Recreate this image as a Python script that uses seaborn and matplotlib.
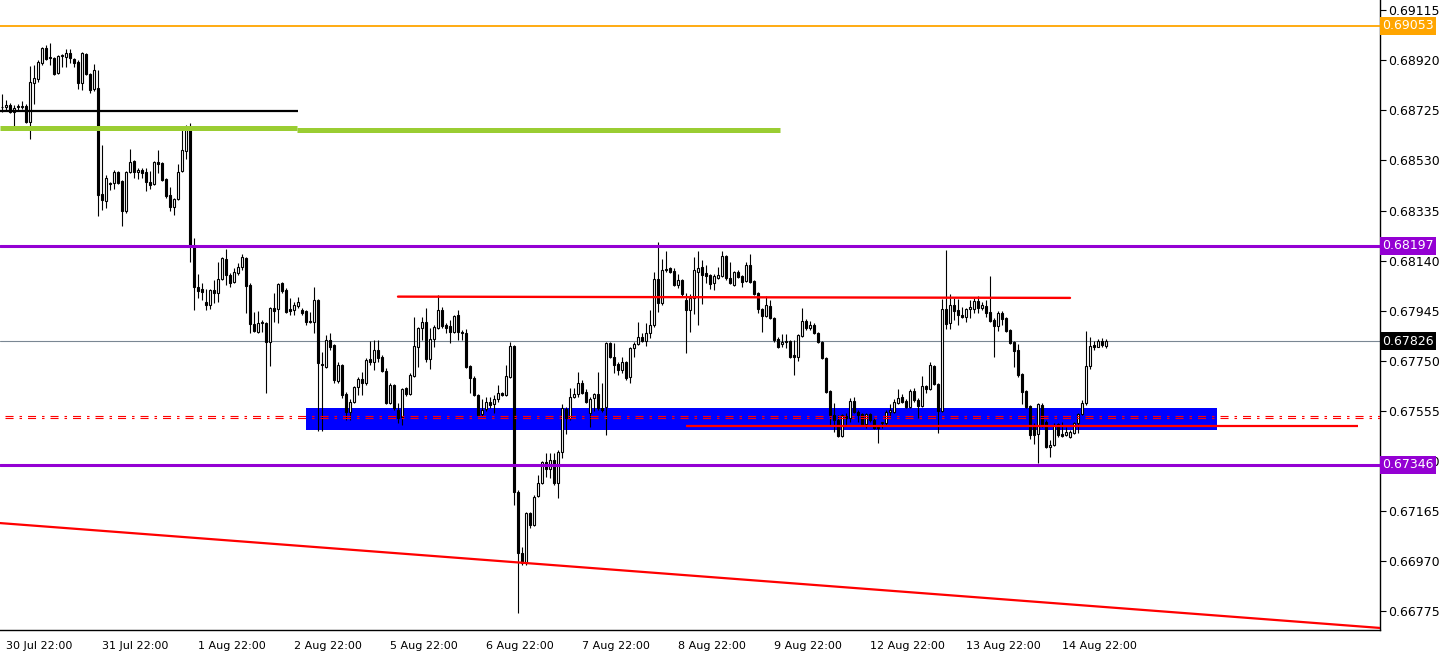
import numpy as np
import pandas as pd
import matplotlib
matplotlib.use("Agg")
import matplotlib.pyplot as plt
import matplotlib.transforms as mtransforms
import seaborn as sns

# ---------------- data (prices in points, 1 point = 0.00001) ----------------
open_pts = [
    68738, 68738, 68746, 68718, 68738, 68738, 68742, 68680, 68831, 68847,
    68909, 68967, 68928, 68928, 68870, 68936, 68932, 68948, 68924, 68913,
    68831, 68944, 68866, 68808, 68812, 68399, 68372, 68438, 68442, 68485,
    68450, 68333, 68485, 68528, 68485, 68493, 68485, 68446, 68438, 68524,
    68520, 68458, 68395, 68349, 68380, 68489, 68567, 68656, 68193, 68038,
    68030, 67979, 67968, 68026, 68014, 68069, 68146, 68084, 68057, 68092,
    68115, 68150, 68046, 67894, 67862, 67898, 67898, 67823, 67956, 67952,
    68053, 68026, 67952, 67948, 67964, 67948, 67944, 67902, 67902, 67987,
    67734, 67726, 67831, 67812, 67672, 67734, 67621, 67551, 67590, 67648,
    67679, 67664, 67757, 67746, 67792, 67765, 67711, 67586, 67656, 67559,
    67532, 67644, 67621, 67691, 67804, 67878, 67902, 67757, 67835, 67878,
    67948, 67890, 67886, 67862, 67929, 67862, 67859, 67730, 67683, 67617,
    67544, 67563, 67590, 67582, 67602, 67625, 67617, 67687, 67808, 67240,
    67003, 66964, 67158, 67112, 67225, 67275, 67357, 67330, 67365, 67275,
    67396, 67563, 67528, 67609, 67621, 67664, 67629, 67547, 67606, 67621,
    67567, 67571, 67820, 67765, 67738, 67714, 67746, 67687, 67800, 67816,
    67843, 67827, 67859, 67890, 68069, 67975, 68103, 68111, 68100, 68046,
    68065, 67987, 67948, 67995, 68096, 68115, 68092, 68084, 68053, 68072,
    68080, 68158, 68072, 68046, 68096, 68080, 68061, 68123, 68061, 68014,
    67952, 67925, 67964, 67917, 67835, 67816, 67827, 67827, 67773, 67765,
    67847, 67905, 67878, 67890, 67859, 67823, 67761, 67633, 67540, 67520,
    67458, 67536, 67528, 67594, 67551, 67544, 67505, 67544, 67520, 67493,
    67509, 67509, 67551, 67551, 67586, 67609, 67594, 67571, 67633, 67598,
    67575, 67652, 67640, 67730, 67660, 67555, 67952, 67898, 67968, 67948,
    67929, 67921, 67952, 67952, 67983, 67956, 67964, 67940, 67909, 67886,
    67936, 67917, 67870, 67823, 67792, 67699, 67633, 67575, 67501, 67466,
    67579, 67512, 67415, 67423, 67505, 67466, 67462, 67454, 67470, 67509,
    67544, 67586, 67730, 67812, 67804, 67827, 67808,
]
high_pts = [
    68788, 68765, 68753, 68746, 68749, 68761, 68749, 68897, 68901, 68921,
    68971, 68979, 68987, 68932, 68940, 68944, 68963, 68963, 68928, 68921,
    68952, 68948, 68870, 68905, 68882, 68590, 68473, 68446, 68493, 68489,
    68454, 68489, 68574, 68532, 68500, 68500, 68500, 68489, 68528, 68570,
    68524, 68462, 68427, 68384, 68516, 68648, 68668, 68676, 68228, 68089,
    68053, 68030, 68030, 68065, 68135, 68154, 68185, 68092, 68111, 68131,
    68166, 68154, 68053, 67940, 67944, 67909, 67902, 67960, 68014, 68053,
    68057, 68034, 67995, 67979, 67999, 67956, 67948, 67940, 68038, 67991,
    67785, 67851, 67859, 67816, 67746, 67738, 67629, 67602, 67652, 67687,
    67707, 67761, 67827, 67831, 67831, 67773, 67722, 67664, 67660, 67586,
    67644, 67648, 67703, 67921, 67882, 67921, 67956, 67878, 67890, 68006,
    67960, 67898, 67909, 67929, 67948, 67870, 67874, 67734, 67691, 67621,
    67602, 67609, 67609, 67617, 67656, 67629, 67734, 67823, 67812, 67248,
    67026, 67162, 67162, 67228, 67306, 67361, 67392, 67392, 67392, 67403,
    67582, 67571, 67644, 67644, 67707, 67675, 67640, 67609, 67625, 67707,
    67664, 67823, 67823, 67820, 67746, 67765, 67750, 67804, 67823, 67902,
    67859, 67898, 67948, 68096, 68213, 68146, 68178, 68115, 68111, 68089,
    68069, 68014, 68010, 68154, 68178, 68142, 68123, 68088, 68089, 68115,
    68178, 68162, 68135, 68100, 68103, 68084, 68135, 68166, 68065, 68018,
    67956, 68003, 67987, 67921, 67843, 67855, 67855, 67831, 67831, 67855,
    67956, 67913, 67905, 67898, 67862, 67827, 67765, 67636, 67586, 67540,
    67544, 67547, 67606, 67609, 67559, 67547, 67547, 67547, 67528, 67501,
    67512, 67559, 67582, 67602, 67640, 67621, 67602, 67640, 67644, 67606,
    67691, 67656, 67746, 67734, 67664, 67991, 68181, 68010, 67995, 67991,
    67960, 67956, 67987, 67995, 68003, 67979, 67987, 68080, 67917, 67944,
    67944, 67921, 67874, 67827, 67816, 67703, 67636, 67579, 67509, 67586,
    67586, 67520, 67442, 67509, 67509, 67512, 67493, 67481, 67512, 67547,
    67598, 67866, 67843, 67827, 67835, 67839, 67835,
]
low_pts = [
    68718, 68726, 68714, 68664, 68726, 68730, 68676, 68613, 68749, 68835,
    68901, 68921, 68901, 68862, 68866, 68893, 68893, 68909, 68893, 68808,
    68804, 68862, 68792, 68800, 68314, 68337, 68345, 68415, 68419, 68438,
    68275, 68325, 68481, 68462, 68458, 68462, 68411, 68419, 68434, 68481,
    68450, 68384, 68333, 68318, 68376, 68485, 68536, 68135, 67948, 67995,
    67987, 67948, 67952, 67975, 67979, 68065, 68046, 68038, 68053, 68084,
    68104, 67936, 67859, 67862, 67859, 67862, 67625, 67730, 67902, 67898,
    68014, 67936, 67929, 67929, 67956, 67929, 67890, 67898, 67859, 67477,
    67477, 67722, 67792, 67664, 67664, 67606, 67520, 67520, 67586, 67617,
    67617, 67656, 67734, 67714, 67746, 67707, 67582, 67582, 67559, 67509,
    67501, 67613, 67617, 67687, 67726, 67831, 67746, 67718, 67804, 67874,
    67878, 67859, 67820, 67859, 67831, 67831, 67722, 67625, 67613, 67536,
    67536, 67555, 67567, 67547, 67590, 67613, 67613, 67683, 67190, 66769,
    66956, 66956, 67100, 67108, 67220, 67271, 67299, 67295, 67267, 67217,
    67372, 67466, 67520, 67606, 67609, 67621, 67586, 67493, 67555, 67559,
    67551, 67462, 67761, 67703, 67695, 67703, 67675, 67664, 67765, 67812,
    67823, 67808, 67839, 67882, 67940, 67968, 68096, 68092, 68042, 68034,
    68003, 67781, 67862, 67933, 67890, 67971, 68053, 68030, 68026, 68069,
    68076, 68065, 68049, 68042, 68072, 68038, 68057, 68053, 68007, 67936,
    67862, 67921, 67913, 67823, 67800, 67804, 67800, 67761, 67695, 67750,
    67843, 67870, 67870, 67855, 67820, 67757, 67625, 67501, 67474, 67454,
    67454, 67501, 67512, 67547, 67512, 67497, 67489, 67512, 67485, 67431,
    67489, 67501, 67532, 67547, 67582, 67586, 67567, 67567, 67590, 67528,
    67571, 67625, 67636, 67656, 67470, 67551, 67874, 67874, 67909, 67890,
    67917, 67902, 67917, 67936, 67936, 67948, 67921, 67902, 67765, 67866,
    67890, 67862, 67816, 67726, 67687, 67582, 67567, 67446, 67427, 67353,
    67493, 67411, 67376, 67419, 67454, 67454, 67458, 67450, 67466, 67470,
    67540, 67579, 67718, 67792, 67812, 67804, 67800,
]
close_pts = [
    68738, 68746, 68718, 68734, 68742, 68742, 68680, 68835, 68851, 68913,
    68967, 68924, 68932, 68866, 68936, 68940, 68948, 68928, 68909, 68831,
    68948, 68866, 68804, 68882, 68395, 68376, 68462, 68442, 68485, 68442,
    68333, 68485, 68524, 68485, 68493, 68481, 68446, 68434, 68524, 68516,
    68454, 68391, 68349, 68380, 68485, 68570, 68660, 68201, 68038, 68022,
    68018, 67968, 68026, 68014, 68069, 68150, 68084, 68053, 68096, 68115,
    68154, 68042, 67894, 67866, 67898, 67902, 67823, 67956, 67944, 68049,
    68022, 67940, 67944, 67968, 67979, 67936, 67902, 67905, 67987, 67742,
    67738, 67831, 67804, 67675, 67734, 67617, 67551, 67590, 67648, 67679,
    67664, 67753, 67746, 67792, 67761, 67711, 67586, 67656, 67567, 67528,
    67640, 67621, 67695, 67808, 67878, 67902, 67757, 67835, 67882, 67948,
    67886, 67878, 67862, 67925, 67862, 67859, 67726, 67683, 67617, 67540,
    67559, 67590, 67579, 67602, 67625, 67617, 67691, 67808, 67240, 67003,
    66964, 67158, 67112, 67220, 67275, 67357, 67330, 67365, 67275, 67396,
    67567, 67528, 67609, 67621, 67664, 67625, 67590, 67602, 67621, 67567,
    67559, 67820, 67765, 67734, 67714, 67746, 67683, 67800, 67816, 67843,
    67827, 67859, 67890, 68069, 67975, 68103, 68107, 68096, 68046, 68065,
    68010, 67948, 67995, 68103, 68111, 68084, 68080, 68049, 68080, 68084,
    68158, 68072, 68053, 68096, 68076, 68057, 68123, 68057, 68010, 67952,
    67925, 67968, 67917, 67831, 67804, 67823, 67823, 67765, 67765, 67851,
    67905, 67878, 67890, 67859, 67823, 67761, 67629, 67540, 67520, 67458,
    67540, 67528, 67594, 67551, 67540, 67501, 67544, 67520, 67489, 67489,
    67512, 67551, 67559, 67590, 67606, 67590, 67571, 67633, 67598, 67575,
    67652, 67640, 67734, 67660, 67555, 67952, 67894, 67968, 67944, 67929,
    67921, 67952, 67960, 67983, 67956, 67968, 67936, 67905, 67886, 67936,
    67913, 67866, 67820, 67788, 67695, 67629, 67571, 67462, 67462, 67582,
    67501, 67415, 67423, 67501, 67462, 67458, 67474, 67474, 67509, 67544,
    67586, 67730, 67808, 67804, 67827, 67812, 67826,
]

day_labels = ["30 Jul 22:00", "31 Jul 22:00", "1 Aug 22:00", "2 Aug 22:00",
              "5 Aug 22:00", "6 Aug 22:00", "7 Aug 22:00", "8 Aug 22:00",
              "9 Aug 22:00", "12 Aug 22:00", "13 Aug 22:00", "14 Aug 22:00"]
price_ticks = [0.69115, 0.68920, 0.68725, 0.68530, 0.68335, 0.68140, 0.67945,
               0.67750, 0.67555, 0.67360, 0.67165, 0.66970, 0.66775]

level_orange = 0.69053
level_purple_hi = 0.68197
level_purple_lo = 0.67346
level_last = 0.67826
level_black = 0.68722
level_green = [0.68656, 0.68650]
level_resist = [0.68000, 0.67995]
zone_prices = [0.67481, 0.67567]
level_dashdot = [0.67536, 0.67527]
level_support = 0.67497
trend_prices = [0.67119, 0.66711]

# ---------------- setup ----------------
sns.set_style("white")
plt.rcParams["font.family"] = ["DejaVu Sans"]
plt.rcParams["lines.scale_dashes"] = False

n = min(len(open_pts), len(high_pts), len(low_pts), len(close_pts))
df = pd.DataFrame({
    "idx": np.arange(n),
    "open": np.array(open_pts[:n]) / 1e5,
    "high": np.array(high_pts[:n]) / 1e5,
    "low": np.array(low_pts[:n]) / 1e5,
    "close": np.array(close_pts[:n]) / 1e5,
})

W, H = 1444, 654
fig = plt.figure(figsize=(W / 100, H / 100), dpi=100)
fig.patch.set_facecolor("white")
ax = fig.add_axes([0, 24 / H, 1380 / W, 630 / H])
ax.set_facecolor("white")

x_left, x_right = -0.5, 344.5
ax.set_xlim(x_left, x_right)
ax.set_ylim(0.66703, 0.69154)

# demand zone (blue box)
ax.fill_between([76, 303.75], zone_prices[0], zone_prices[1], color="#0000FF",
                linewidth=0, zorder=1)

# candles
up = df["close"] >= df["open"]
ax.vlines(df["idx"], df["low"], df["high"], color="black", linewidth=0.8, zorder=3)
bottom = np.minimum(df["open"], df["close"])
height = np.abs(df["close"] - df["open"])
ax.bar(df["idx"][up], height[up], bottom=bottom[up], width=0.5,
       facecolor="white", edgecolor="black", linewidth=0.8, zorder=4)
ax.bar(df["idx"][~up], height[~up], bottom=bottom[~up], width=0.5,
       facecolor="black", edgecolor="black", linewidth=0.8, zorder=4)

# horizontal levels
ax.axhline(level_orange, color="#FFA500", linewidth=1.3, zorder=5)
ax.axhline(level_purple_hi, color="#9400D3", linewidth=2.2, zorder=5)
ax.axhline(level_purple_lo, color="#9400D3", linewidth=2.2, zorder=5)
ax.axhline(level_last, color="#7A8793", linewidth=0.8, zorder=2)
ax.hlines(level_black, x_left, 74, color="black", linewidth=1.6, zorder=5)
ax.hlines(level_green[0], x_left, 73.75, color="#9ACD32", linewidth=3.6, zorder=5)
ax.hlines(level_green[1], 73.75, 194.5, color="#9ACD32", linewidth=3.6, zorder=5)

sns.lineplot(x=[99, 267], y=level_resist, ax=ax, color="red", linewidth=1.7,
             zorder=6, legend=False)
ax.hlines(level_support, 171, 339, color="red", linewidth=1.6, zorder=6)
for lv in level_dashdot:
    ax.hlines(lv, 0.75, x_right, colors="red", linewidth=0.8,
              linestyles=(0, (5.8, 4.3, 1.8, 4.3)), zorder=6)
sns.lineplot(x=[x_left, x_right], y=trend_prices, ax=ax, color="red",
             linewidth=1.6, zorder=6, legend=False)

# axes styling
for s in ["top", "left"]:
    ax.spines[s].set_visible(False)
for s in ["right", "bottom"]:
    ax.spines[s].set_visible(True)
    ax.spines[s].set_color("black")
    ax.spines[s].set_linewidth(1.0)

ax.yaxis.tick_right()
ax.set_yticks(price_ticks)
ax.set_yticklabels([f"{v:.5f}" for v in price_ticks])
ax.tick_params(axis="y", direction="out", length=4, width=0.8, pad=2,
               labelsize=9, colors="black")

tick_idx = [1 + 24 * k for k in range(len(day_labels))]
ax.set_xticks(tick_idx)
ax.set_xticklabels(day_labels, ha="left")
ax.tick_params(axis="x", direction="out", length=5, width=0.8, pad=3,
               labelsize=8, colors="black")
ax.set_xlabel("")
ax.set_ylabel("")
ax.grid(False)

# price label boxes on the right scale
trans = mtransforms.blended_transform_factory(ax.transAxes, ax.transData)
for lv, col in [(level_orange, "#FFA500"), (level_purple_hi, "#9400D3"),
                (level_last, "black"), (level_purple_lo, "#9400D3")]:
    ax.text(1.0015, lv, f"{lv:.5f}", transform=trans, ha="left", va="center",
            color="white", fontsize=9, clip_on=False, zorder=20,
            bbox=dict(boxstyle="square,pad=0.2", fc=col, ec="none"))

fig.savefig("out.png", dpi=100, facecolor="white")
